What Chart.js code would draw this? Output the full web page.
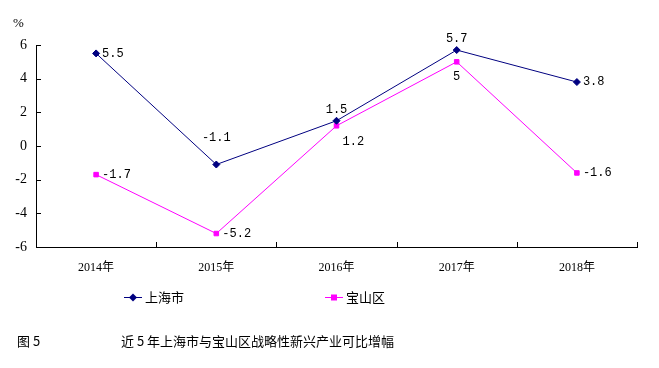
<!DOCTYPE html>
<html><head><meta charset="utf-8">
<script src="https://cdn.jsdelivr.net/npm/chart.js@4"></script>
<style>
html,body{margin:0;padding:0;background:#fff;}
#wrap{position:relative;width:659px;height:368px;}
canvas{position:absolute;left:0;top:0;}
</style></head>
<body><div id="wrap"><canvas id="c" width="659" height="368"></canvas></div>
<script>
const categories = ["2014年","2015年","2016年","2017年","2018年"];
const shanghai = [5.5, -1.1, 1.5, 5.7, 3.8];
const baoshan = [-1.7, -5.2, 1.2, 5, -1.6];
const yTicks = [-6,-4,-2,0,2,4,6];
const seriesNames = ["上海市","宝山区"];
const labelPos = [["right","aboveHigh","above","above","right"],["right","right","belowRight","below","right"]];
const NAVY = "#000080", MAG = "#FF00FF";
const LBL = "12px 'Liberation Mono', 'DejaVu Sans Mono', monospace";

const extras = {
  id:"extras",
  afterDatasetsDraw(chart){
    const ctx = chart.ctx;
    const xs = chart.scales.x, ys = chart.scales.y;
    ctx.save();
    ctx.strokeStyle="#000"; ctx.lineWidth=1;
    yTicks.forEach(v=>{
      const y=Math.round(ys.getPixelForValue(v))+0.5;
      ctx.beginPath(); ctx.moveTo(xs.left,y); ctx.lineTo(xs.left+5,y); ctx.stroke();
    });
    for(let i=0;i<=categories.length;i++){
      const x=Math.round(xs.left+(xs.right-xs.left)*i/categories.length)+0.5;
      ctx.beginPath(); ctx.moveTo(x,ys.bottom); ctx.lineTo(x,ys.bottom-5); ctx.stroke();
    }
    ctx.font=LBL; ctx.fillStyle="#000";
    chart.data.datasets.forEach((ds,di)=>{
      const meta=chart.getDatasetMeta(di);
      meta.data.forEach((pt,i)=>{
        const t=String(ds.data[i]); const p=labelPos[di][i];
        let x=pt.x,y=pt.y;
        if(p==="right"){ctx.textAlign="left";ctx.textBaseline="middle";x+=6;}
        else if(p==="above"){ctx.textAlign="center";ctx.textBaseline="bottom";y-=5;}
        else if(p==="aboveHigh"){ctx.textAlign="center";ctx.textBaseline="bottom";y-=21;}
        else if(p==="below"){ctx.textAlign="center";ctx.textBaseline="top";y+=9;}
        else if(p==="belowRight"){ctx.textAlign="left";ctx.textBaseline="top";x+=6;y+=10;}
        ctx.fillText(t,x,y);
      });
    });
    ctx.textAlign="left"; ctx.textBaseline="middle";
    ctx.font="13px 'Liberation Serif', serif";
    ctx.fillText("%",13,24);
    const leg=[[124,NAVY,"rectRot"],[325,MAG,"rect"]];
    leg.forEach((l,i)=>{
      const y=297.5;
      ctx.strokeStyle=l[1]; ctx.lineWidth=1;
      ctx.beginPath(); ctx.moveTo(l[0],y); ctx.lineTo(l[0]+18,y); ctx.stroke();
      ctx.fillStyle=l[1];
      ctx.beginPath();
      if(l[2]==="rect"){ctx.fillRect(l[0]+6,y-3,6,6);} else {ctx.moveTo(l[0]+9,y-4);ctx.lineTo(l[0]+13,y);ctx.lineTo(l[0]+9,y+4);ctx.lineTo(l[0]+5,y);ctx.closePath();ctx.fill();}
      ctx.fillStyle="#000"; ctx.font="13px 'Noto Sans CJK SC', sans-serif";
      ctx.fillText(seriesNames[i],l[0]+21,y);
    });
    ctx.font="13px 'Noto Sans CJK SC', sans-serif";
    ctx.fillText("图 5",17,341);
    ctx.fillText("近 5 年上海市与宝山区战略性新兴产业可比增幅",121,341);
    ctx.restore();
  }
};

new Chart(document.getElementById("c"),{
  type:"line",
  data:{labels:categories,datasets:[
    {label:seriesNames[0],data:shanghai,borderColor:NAVY,backgroundColor:NAVY,borderWidth:1,pointStyle:"rectRot",pointRadius:3.5,pointHoverRadius:3.5,tension:0},
    {label:seriesNames[1],data:baoshan,borderColor:MAG,backgroundColor:MAG,borderWidth:1,pointStyle:"rect",pointRadius:3.2,pointHoverRadius:3.2,tension:0}
  ]},
  options:{
    responsive:false,animation:false,devicePixelRatio:1,
    layout:{padding:{left:0,top:45,right:22,bottom:0}},
    plugins:{legend:{display:false},tooltip:{enabled:false},title:{display:false}},
    scales:{
      x:{offset:true,grid:{display:false,drawTicks:false},border:{display:true,color:"#000",width:1},
        ticks:{color:"#000",padding:14,font:{family:"'Liberation Serif','Noto Sans CJK SC',serif",size:12},maxRotation:0},
        afterFit(s){s.height=121;}},
      y:{min:-6,max:6,grid:{display:false,drawTicks:false},border:{display:true,color:"#000",width:1},
        afterBuildTicks(s){s.ticks=yTicks.map(v=>({value:v}));},
        ticks:{color:"#000",padding:9,font:{family:"'Liberation Serif',serif",size:14}},
        afterFit(s){s.width=36;}}
    }
  },
  plugins:[extras]
});
</script></body></html>
